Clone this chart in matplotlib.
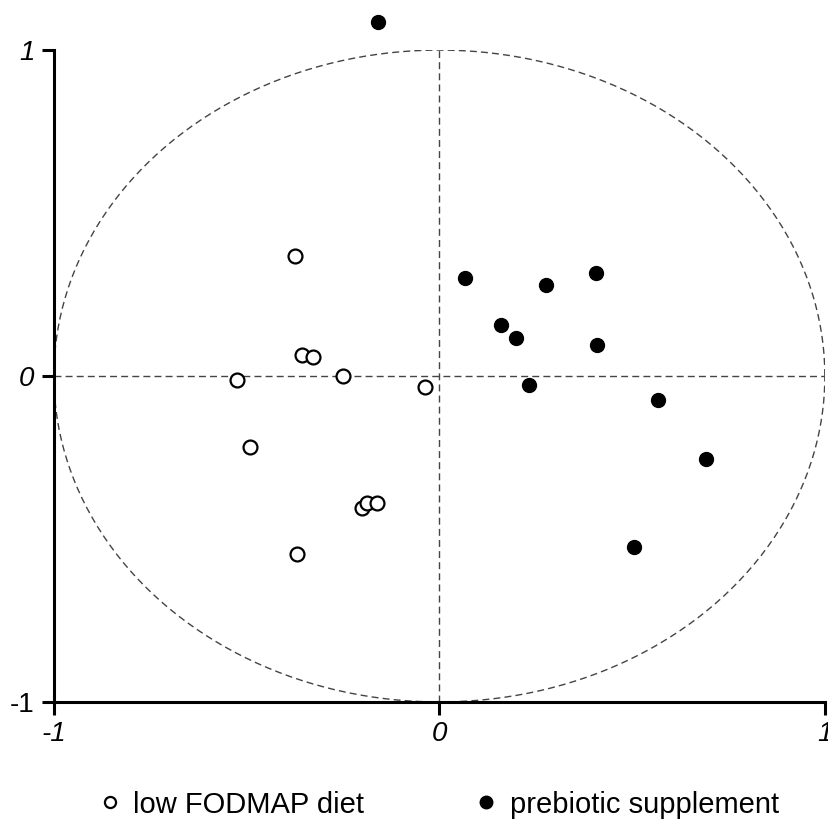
import matplotlib.pyplot as plt
import numpy as np
from matplotlib.lines import Line2D

plt.rcParams['font.family'] = ['Liberation Sans', 'DejaVu Sans']

# low FODMAP diet (open circles)
low_x = [-0.375, -0.357, -0.328, -0.250, -0.525, -0.038, -0.492, -0.201, -0.188, -0.162, -0.370]
low_y = [0.368, 0.064, 0.058, 0.000, -0.012, -0.034, -0.218, -0.405, -0.390, -0.390, -0.546]

# prebiotic supplement (filled circles)
pre_x = [-0.160, 0.066, 0.276, 0.406, 0.160, 0.198, 0.409, 0.232, 0.567, 0.691, 0.505]
pre_y = [1.086, 0.301, 0.279, 0.316, 0.156, 0.117, 0.095, -0.028, -0.074, -0.255, -0.525]

ticks = [-1, 0, 1]
tick_labels = ['-1', '0', '1']

fig = plt.figure(figsize=(8.29, 8.21), dpi=100)
ax = fig.add_axes([0.065, 0.145, 0.930, 0.794])

# unit circle and axes through origin
t = np.linspace(0, 2 * np.pi, 400)
ax.plot(np.cos(t), np.sin(t), '--', color='#444444', lw=1, dashes=(5, 3))
ax.axhline(0, ls='--', color='#444444', lw=1, dashes=(5, 3))
ax.axvline(0, ls='--', color='#444444', lw=1, dashes=(5, 3))

ax.plot(low_x, low_y, 'o', ms=10, mfc='white', mec='black', mew=1.6, clip_on=False)
ax.plot(pre_x, pre_y, 'o', ms=10, mfc='black', mec='black', clip_on=False)

ax.set_xlim(-1, 1)
ax.set_ylim(-1, 1)
ax.set_xticks(ticks)
ax.set_yticks(ticks)
ax.set_xticklabels(tick_labels, fontsize=20, style='italic')
ax.set_yticklabels(tick_labels, fontsize=20)
for lab in ax.get_yticklabels()[1:]:
    lab.set_style('italic')
ax.tick_params(length=9, width=2.2, pad=5)
for s in ['top', 'right']:
    ax.spines[s].set_visible(False)
for s in ['left', 'bottom']:
    ax.spines[s].set_linewidth(2.2)

handles = [Line2D([], [], marker='o', ls='', ms=8, mfc='white', mec='black', mew=1.6),
           Line2D([], [], marker='o', ls='', ms=9, mfc='black', mec='black')]
fig.legend(handles, ['low FODMAP diet', 'prebiotic supplement'], loc='center',
           bbox_to_anchor=(0.527, 0.02), ncol=2, frameon=False, fontsize=21,
           handletextpad=0.3, columnspacing=3.7, handlelength=1)

fig.savefig('out.png', dpi=100)
